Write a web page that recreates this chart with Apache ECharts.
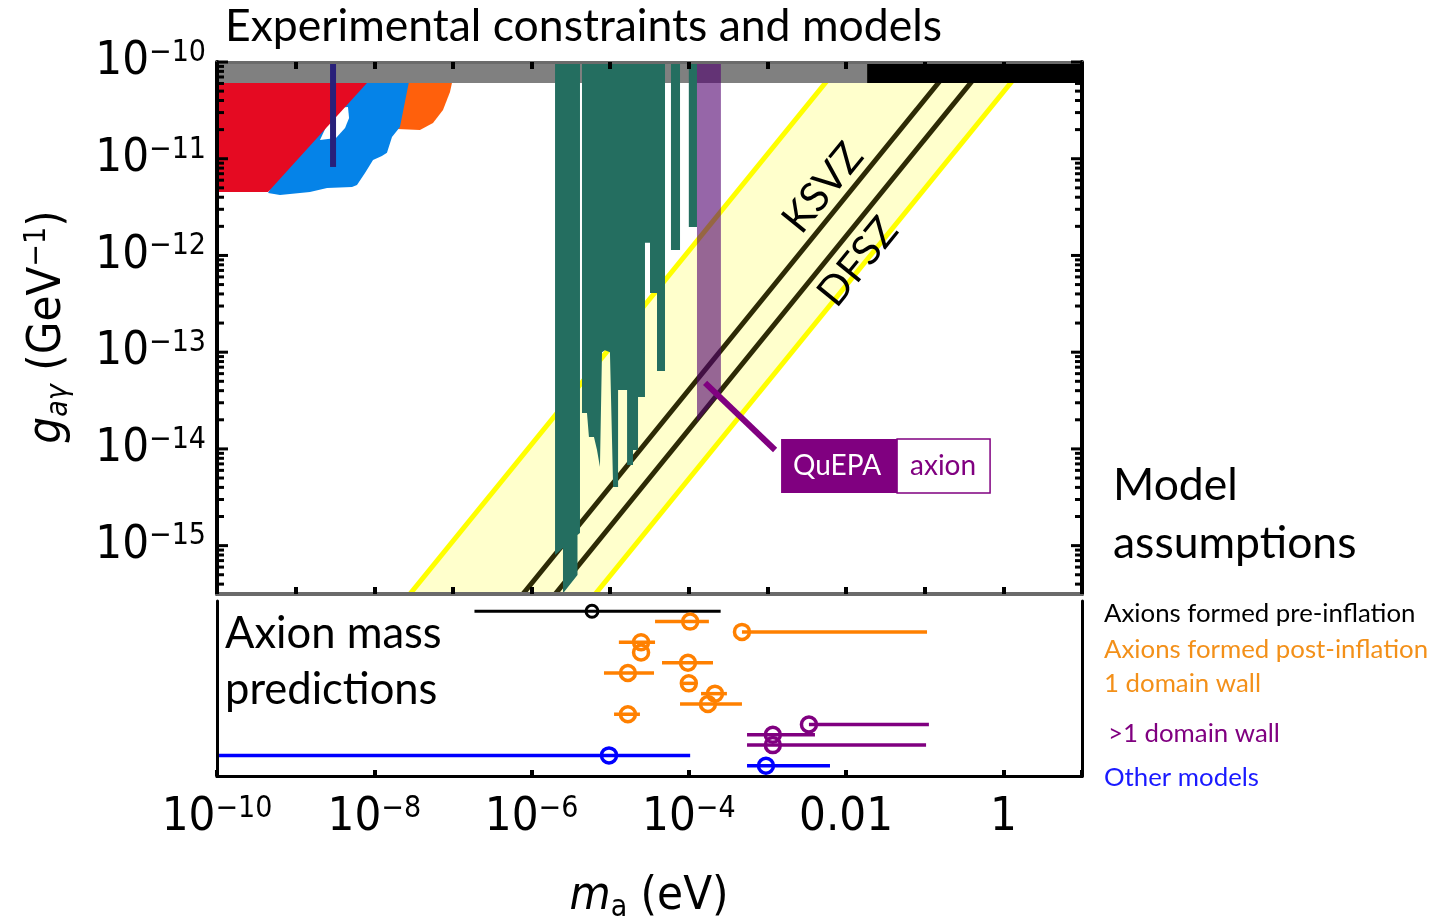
<!DOCTYPE html>
<html><head><meta charset="utf-8">
<script src="https://cdn.jsdelivr.net/npm/echarts/dist/echarts.min.js"></script>
<style>html,body{margin:0;padding:0;background:#fff}#c{width:1430px;height:919px}</style>
</head><body><div id="c"></div>
<script>
// ================= DATA =================
const mMin = 1e-10, mMax = 10;            // axion mass range (eV)
const gMin = 3.162e-16, gMax = 1e-10;     // coupling range (GeV^-1)

const couplingDecades = [1e-16, 1e-15, 1e-14, 1e-13, 1e-12, 1e-11, 1e-10];
const minorMultipliers = [1, 2, 3, 4, 5, 6, 7, 8, 9];

// Experimental exclusion regions [mass, coupling]
const castBand  = [[1e-10, 6.07e-11], [1.85e-2, 6.07e-11], [1.85e-2, 1e-10], [1e-10, 1e-10]];
const blackBand = [[1.85e-2, 6.07e-11], [10, 6.07e-11], [10, 1e-10], [1.85e-2, 1e-10]];
const redRegion = [[1e-10, 1e-10], [8.07e-9, 1e-10], [8.07e-9, 6.07e-11], [4.46e-10, 4.53e-12], [1e-10, 4.53e-12]];
const blueRegion = [[3.66e-9, 1e-10], [3.10e-8, 1e-10], [2.12e-8, 2.13e-11], [1.68e-8, 1.68e-11], [1.45e-8, 1.15e-11],
  [1.25e-8, 1.07e-11], [9.64e-9, 9.70e-12], [7.62e-9, 7.11e-12], [6.03e-9, 5.35e-12], [5.21e-9, 5.10e-12],
  [2.51e-9, 4.98e-12], [1.52e-9, 4.53e-12], [6.32e-10, 4.22e-12], [4.46e-10, 4.42e-12]];
const blueHole = [[3.16e-9, 3.34e-11], [4.63e-9, 3.43e-11], [4.78e-9, 2.64e-11], [4.25e-9, 2.08e-11], [3.26e-9, 1.64e-11], [2.04e-9, 1.56e-11]];
const orangeRegion = [[2.46e-8, 1e-10], [9.72e-8, 1e-10], [9.72e-8, 6.07e-11], [9.18e-8, 4.90e-11], [7.48e-8, 3.19e-11],
  [5.58e-8, 2.34e-11], [3.81e-8, 1.98e-11], [1.95e-8, 2.03e-11], [1.83e-8, 4.05e-11]];
const navyLine = [[2.99e-9, 1e-10], [2.99e-9, 8.22e-12]];
const haloscopeA = [[1.99e-6, 1e-10], [4.13e-6, 1e-10], [4.13e-6, 1.35e-15], [3.84e-6, 1.29e-15], [3.84e-6, 4.97e-16],
  [2.59e-6, 3.32e-16], [2.51e-6, 3.32e-16], [2.51e-6, 9.46e-16], [1.99e-6, 8.00e-16]];
const haloscopeB = [[4.38e-6, 1e-10], [4.98e-5, 1e-10], [4.98e-5, 6.40e-14], [3.94e-5, 6.40e-14], [3.94e-5, 4.09e-13],
  [3.21e-5, 4.09e-13], [3.21e-5, 1.35e-12], [2.77e-5, 1.35e-12], [2.77e-5, 3.44e-14], [2.26e-5, 3.44e-14],
  [2.26e-5, 9.75e-15], [1.95e-5, 9.75e-15], [1.95e-5, 6.82e-15], [1.64e-5, 6.82e-15], [1.64e-5, 4.06e-14],
  [1.26e-5, 4.06e-14], [1.26e-5, 4.04e-15], [1.09e-5, 4.04e-15], [9.93e-6, 1.00e-13], [8.59e-6, 1.05e-13],
  [7.87e-6, 1.00e-13], [7.41e-6, 6.50e-15], [6.79e-6, 9.8e-15], [6.22e-6, 1.33e-14], [5.37e-6, 1.33e-14],
  [5.07e-6, 2.35e-14], [4.38e-6, 2.35e-14]];
const haloscopeC = [[5.93e-5, 1e-10], [7.73e-5, 1e-10], [7.73e-5, 1.14e-12], [5.93e-5, 1.14e-12]];
const haloscopeD = [[1.00e-4, 1e-10], [1.27e-4, 1e-10], [1.27e-4, 1.97e-12], [1.00e-4, 1.97e-12]];
const quepaBand = [[1.27e-4, 1e-10], [2.56e-4, 1e-10], [2.56e-4, 3.79e-14], [1.27e-4, 1.90e-14]];
const quepaCallout = [[1.61e-4, 4.81e-14], [1.25e-3, 9.75e-15]];

// Model band and lines
const modelBand   = [[2.84e-8, 3.162e-16], [8.97e-3, 1e-10], [2.04, 1e-10], [6.46e-6, 3.162e-16]];
const upperYellow = [[2.84e-8, 3.162e-16], [8.97e-3, 1e-10]];
const lowerYellow = [[6.46e-6, 3.162e-16], [2.04, 1e-10]];
const ksvzLine    = [[7.76e-7, 3.162e-16], [0.245, 1e-10]];
const dfszLine    = [[2.0e-6, 3.162e-16], [0.631, 1e-10]];

// Axion mass predictions: [central, low, high, row]
const preInflation = [[5.87e-6, 1.88e-7, 2.54e-4, 16]];
const postInflation1DW = [
  [1.04e-4, 3.72e-5, 1.80e-4, 15],
  [4.74e-4, 4.74e-4, 0.107, 14],
  [2.47e-5, 1.29e-5, 3.72e-5, 13],
  [2.47e-5, 2.47e-5, 2.47e-5, 12],
  [9.75e-5, 4.56e-5, 2.03e-4, 11],
  [1.68e-5, 8.34e-6, 3.61e-5, 10],
  [1.00e-4, 8.43e-5, 1.20e-4, 9],
  [2.15e-4, 1.43e-4, 3.05e-4, 8],
  [1.75e-4, 7.73e-5, 4.74e-4, 7],
  [1.68e-5, 1.12e-5, 2.39e-5, 6]];
const multiDomainWall = [
  [3.37e-3, 3.37e-3, 0.113, 5],
  [1.17e-3, 5.50e-4, 4.02e-3, 4],
  [1.17e-3, 5.50e-4, 0.104, 3]];
const otherModels = [
  [9.66e-6, 1e-10, 1.04e-4, 2],
  [9.57e-4, 5.50e-4, 6.24e-3, 1]];

// ================= CHART =================
const NARROW = "'Liberation Sans Narrow','DejaVu Sans Condensed','Liberation Sans',sans-serif";
const SANS = "Lato,'Open Sans',sans-serif";
const G = {left: 217, width: 865};

function expOf(v) { const e = Math.log10(v); const r = Math.round(e); return Math.abs(e - r) < 1e-6 ? r : null; }

function shape(verts, kind, style, z, xi, yi) {
  return {
    type: 'custom', coordinateSystem: 'cartesian2d', xAxisIndex: xi || 0, yAxisIndex: yi || 0,
    data: verts, encode: {x: 0, y: 1}, z: z, clip: true, silent: true,
    renderItem: (params, api) => {
      if (params.dataIndex !== 0) return null;
      const pts = verts.map(v => api.coord(v));
      return {type: kind, shape: {points: pts}, style: style};
    }
  };
}
function errorBars(rows, color, lw, r, z) {
  return {
    type: 'custom', coordinateSystem: 'cartesian2d', xAxisIndex: 2, yAxisIndex: 2,
    data: rows, encode: {x: [0, 1, 2], y: 3}, z: z, clip: false, silent: true,
    renderItem: (params, api) => {
      const row = api.value(3);
      const c = api.coord([api.value(0), row]);
      const a = api.coord([api.value(1), row]);
      const b = api.coord([api.value(2), row]);
      return {type: 'group', children: [
        {type: 'line', shape: {x1: a[0], y1: a[1], x2: b[0], y2: b[1]}, style: {stroke: color, lineWidth: lw}},
        {type: 'circle', shape: {cx: c[0], cy: c[1], r: r}, style: {fill: 'none', stroke: color, lineWidth: lw}}
      ]};
    }
  };
}

const yTicks = [];
couplingDecades.forEach(d => minorMultipliers.forEach(k => {
  const v = k * d;
  if (v >= gMin * 0.9999 && v <= gMax * 1.0001) yTicks.push([mMin, v, k === 1 ? 1 : 0]);
}));

const supRich = {
  b: {fontSize: 47, lineHeight: 48, fontFamily: NARROW, color: '#000'},
  s: {fontSize: 30, lineHeight: 22, verticalAlign: 'top', fontFamily: NARROW, color: '#000'}
};

function label(text, x, y, size, color) {
  return {type: 'text', x: x, y: y, z: 100, style: {text: text, fill: color || '#000', fontSize: size, fontFamily: SANS, align: 'left', verticalAlign: 'middle'}};
}

const chart = echarts.init(document.getElementById('c'), null, {renderer: 'canvas'});
const option = {
  backgroundColor: '#fff',
  animation: false,
  grid: [
    {left: G.left, width: G.width, top: 62, height: 532, containLabel: false, outerBoundsMode: 'none'},
    {left: G.left, width: G.width, top: 601, height: 175, containLabel: false, outerBoundsMode: 'none'}
  ],
  xAxis: [
    {type: 'log', logBase: 10, gridIndex: 0, min: mMin, max: mMax, interval: 1, position: 'bottom', z: 20,
      axisLine: {lineStyle: {color: '#6b6b6b', width: 4}}, axisTick: {inside: true, length: 7, lineStyle: {color: '#000', width: 4}},
      axisLabel: {show: false}, splitLine: {show: false}, minorTick: {show: false}},
    {type: 'log', logBase: 10, gridIndex: 0, min: mMin, max: mMax, interval: 1, position: 'top', z: 20,
      axisLine: {lineStyle: {color: '#6b6b6b', width: 3}}, axisTick: {inside: true, length: 7, lineStyle: {color: '#000', width: 4}},
      axisLabel: {show: false}, splitLine: {show: false}},
    {type: 'log', logBase: 10, gridIndex: 1, min: mMin, max: mMax, interval: 2, position: 'bottom', z: 20,
      axisLine: {lineStyle: {color: '#000', width: 3}}, axisTick: {inside: true, length: 6, lineStyle: {color: '#000', width: 4}},
      axisLabel: {margin: 18, rich: supRich, formatter: v => {
        const e = expOf(v);
        if (e === null || e % 2 !== 0) return '';
        if (e === -2) return '{b|0.01}';
        if (e === 0) return '{b|1}';
        return '{b|10}{s|\u2212' + (-e) + '}';
      }}, splitLine: {show: false}},
    {type: 'log', logBase: 10, gridIndex: 1, min: mMin, max: mMax, position: 'top', z: 20,
      axisLine: {lineStyle: {color: '#000', width: 3}}, axisTick: {show: false}, axisLabel: {show: false}, splitLine: {show: false}}
  ],
  yAxis: [
    {type: 'log', logBase: 10, gridIndex: 0, min: gMin, max: gMax, position: 'left', z: 20,
      axisLine: {lineStyle: {color: '#000', width: 4}}, axisTick: {show: false},
      axisLabel: {margin: 11, rich: supRich, formatter: v => {
        const e = expOf(v);
        if (e === null) return '';
        return '{b|10}{s|\u2212' + (-e) + '}';
      }}, splitLine: {show: false}},
    {type: 'log', logBase: 10, gridIndex: 0, min: gMin, max: gMax, position: 'right', z: 20,
      axisLine: {lineStyle: {color: '#000', width: 4}}, axisTick: {show: false}, axisLabel: {show: false}, splitLine: {show: false}},
    {type: 'value', gridIndex: 1, min: 0, max: 17, position: 'left', z: 20,
      axisLine: {lineStyle: {color: '#000', width: 3}}, axisTick: {show: false}, axisLabel: {show: false}, splitLine: {show: false}},
    {type: 'value', gridIndex: 1, min: 0, max: 17, position: 'right', z: 20,
      axisLine: {lineStyle: {color: '#000', width: 3}}, axisTick: {show: false}, axisLabel: {show: false}, splitLine: {show: false}}
  ],
  series: [
    shape(modelBand, 'polygon', {fill: '#ffffcc'}, 1),
    shape(upperYellow, 'polyline', {stroke: '#ffff00', lineWidth: 5, fill: null}, 2),
    shape(lowerYellow, 'polyline', {stroke: '#ffff00', lineWidth: 5, fill: null}, 2),
    shape(ksvzLine, 'polyline', {stroke: '#2d2a05', lineWidth: 5, fill: null}, 3),
    shape(dfszLine, 'polyline', {stroke: '#2d2a05', lineWidth: 5, fill: null}, 3),
    shape(orangeRegion, 'polygon', {fill: '#ff600c'}, 4),
    shape(blueRegion, 'polygon', {fill: '#0583e8'}, 5),
    shape(blueHole, 'polygon', {fill: '#ffffff'}, 6),
    shape(redRegion, 'polygon', {fill: '#e50a22'}, 7),
    shape(castBand, 'polygon', {fill: '#808080'}, 8),
    shape(blackBand, 'polygon', {fill: '#000000'}, 8),
    shape(haloscopeA, 'polygon', {fill: '#246e60'}, 9),
    shape(haloscopeB, 'polygon', {fill: '#246e60'}, 9),
    shape(haloscopeC, 'polygon', {fill: '#246e60'}, 9),
    shape(haloscopeD, 'polygon', {fill: '#246e60'}, 9),
    shape(quepaBand, 'polygon', {fill: 'rgba(80,0,110,0.6)'}, 10),
    shape(navyLine, 'polyline', {stroke: '#28207a', lineWidth: 6, fill: null}, 11),
    shape(quepaCallout, 'polyline', {stroke: '#800080', lineWidth: 6, fill: null}, 12),
    {
      type: 'custom', coordinateSystem: 'cartesian2d', xAxisIndex: 0, yAxisIndex: 0,
      data: [quepaCallout[1]], encode: {x: 0, y: 1}, z: 13, clip: false, silent: true,
      renderItem: (params, api) => {
        const p = api.coord([api.value(0), api.value(1)]);
        const x0 = p[0] + 6, y0 = p[1] - 11;
        return {type: 'group', children: [
          {type: 'rect', shape: {x: x0, y: y0, width: 116, height: 54}, style: {fill: '#800080'}},
          {type: 'rect', shape: {x: x0 + 116, y: y0, width: 93, height: 54}, style: {fill: '#fff', stroke: '#800080', lineWidth: 1.5}},
          {type: 'text', x: x0 + 56, y: y0 + 27, style: {text: 'QuEPA', fill: '#fff', fontSize: 28, fontFamily: SANS, align: 'center', verticalAlign: 'middle'}},
          {type: 'text', x: x0 + 162, y: y0 + 27, style: {text: 'axion', fill: '#800080', fontSize: 28, fontFamily: SANS, align: 'center', verticalAlign: 'middle'}}
        ]};
      }
    },
    {
      type: 'custom', coordinateSystem: 'cartesian2d', xAxisIndex: 0, yAxisIndex: 0,
      data: yTicks, encode: {x: 0, y: 1}, z: 30, clip: false, silent: true,
      renderItem: (params, api) => {
        const v = api.value(1), major = api.value(2) === 1;
        const pl = api.coord([mMin, v]), pr = api.coord([mMax, v]);
        const len = major ? 11 : 7;
        return {type: 'group', children: [
          {type: 'line', shape: {x1: pl[0], y1: pl[1], x2: pl[0] + len, y2: pl[1]}, style: {stroke: '#000', lineWidth: 3}},
          {type: 'line', shape: {x1: pr[0], y1: pr[1], x2: pr[0] - len, y2: pr[1]}, style: {stroke: '#000', lineWidth: 3}}
        ]};
      }
    },
    errorBars(preInflation, '#000000', 3, 6, 20),
    errorBars(postInflation1DW, '#ff8000', 3.5, 7.5, 20),
    errorBars(multiDomainWall, '#800080', 3.5, 7.5, 20),
    errorBars(otherModels, '#0000ff', 3.5, 7.5, 20)
  ],
  graphic: [
    label('Experimental constraints and models', 225, 27, 44.5),
    label('Axion mass', 225, 634, 43.5),
    label('predictions', 225, 690, 43.5),
    label('Model', 1113, 486, 44.5),
    label('assumptions', 1113, 544, 44.5),
    label('Axions formed pre-inflation', 1104, 614, 25.8),
    label('Axions formed post-inflation', 1104, 650, 25.8, '#f39019'),
    label('1 domain wall', 1104, 684, 25.8, '#f39019'),
    label('>1 domain wall', 1108, 734, 25.8, '#800080'),
    label('Other models', 1104, 778, 25.8, '#1a1aff'),
    {type: 'text', x: 823, y: 188, rotation: 0.888, z: 100, style: {text: 'KSVZ', fill: '#000', fontSize: 41, fontFamily: SANS, align: 'center', verticalAlign: 'middle'}},
    {type: 'text', x: 858, y: 262, rotation: 0.888, z: 100, style: {text: 'DFSZ', fill: '#000', fontSize: 41, fontFamily: SANS, align: 'center', verticalAlign: 'middle'}},
    {type: 'text', x: 48, y: 327, rotation: Math.PI / 2, z: 100, style: {
      text: '{i|g}{sub|a\u03b3}{n| (GeV}{sup|\u22121}{n|)}', align: 'center', verticalAlign: 'middle',
      rich: {
        i: {fontSize: 47, lineHeight: 52, fontStyle: 'italic', fontFamily: NARROW, fill: '#000'},
        n: {fontSize: 47, lineHeight: 52, fontFamily: NARROW, fill: '#000'},
        sub: {fontSize: 30, lineHeight: 24, verticalAlign: 'bottom', fontStyle: 'italic', fontFamily: NARROW, fill: '#000'},
        sup: {fontSize: 30, lineHeight: 22, verticalAlign: 'top', fontFamily: NARROW, fill: '#000'}
      }}},
    {type: 'text', x: 649, y: 897, z: 100, style: {
      text: '{i|m}{sub|a}{n| (eV)}', align: 'center', verticalAlign: 'middle',
      rich: {
        i: {fontSize: 47, lineHeight: 52, fontStyle: 'italic', fontFamily: NARROW, fill: '#000'},
        n: {fontSize: 47, lineHeight: 52, fontFamily: NARROW, fill: '#000'},
        sub: {fontSize: 30, lineHeight: 24, verticalAlign: 'bottom', fontFamily: NARROW, fill: '#000'}
      }}}
  ]
};
chart.setOption(option);
</script>
</body></html>
